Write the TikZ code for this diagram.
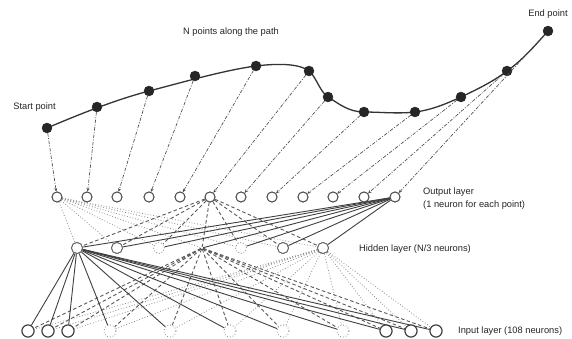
\documentclass[tikz,border=0pt]{standalone}
\usepackage{fontspec}
\setmainfont{Liberation Sans}
\usetikzlibrary{arrows.meta}
\begin{document}
\begin{tikzpicture}[x=1pt,y=-1pt,
  ptdot/.style={circle,fill=black!85,draw=black!85,inner sep=0pt,minimum size=10pt},
  outn/.style={circle,draw=black!70,line width=0.9pt,fill=white,inner sep=0pt,minimum size=10pt},
  hidn/.style={circle,draw=black!60,line width=0.9pt,fill=white,inner sep=0pt,minimum size=11pt},
  hiddot/.style={circle,draw=black!45,dotted,line width=0.8pt,inner sep=0pt,minimum size=11pt},
  hidnone/.style={circle,inner sep=0pt,minimum size=2pt},
  inpn/.style={circle,draw=black!75,line width=1pt,fill=white,inner sep=0pt,minimum size=12pt},
  inpdot/.style={circle,draw=black!45,dotted,line width=0.8pt,inner sep=0pt,minimum size=12pt},
  lbl/.style={font=\fontsize{9.3}{11}\selectfont,text=black!85,inner sep=0pt},
  solidc/.style={draw=black!75,line width=0.9pt},
  dashc/.style={draw=black!65,line width=0.9pt,dash pattern=on 3.5pt off 2.5pt},
  dotc/.style={draw=black!45,line width=0.8pt,dotted},
  pathc/.style={draw=black!70,line width=0.65pt,dash pattern=on 3.5pt off 1.5pt on 1pt off 1.5pt,-{Stealth[length=3.5pt,width=3pt]}},
  curvec/.style={draw=black!80,line width=1.3pt}]
\useasboundingbox (0,0) rectangle (572,339);
\fill[white] (0,0) rectangle (572,339);

% path points
\foreach \n/\x/\y in {1/47/128,2/97/107,3/149/91,4/195/76,5/256/66,6/309/71,7/328/97,8/364/112,9/415/112,10/461/97,11/507/71,12/548/31}
  \coordinate (c\n) at (\x,\y);
\draw[curvec] (c1) .. controls (80,114) and (115,100) .. (c3)
  .. controls (180,83) and (225,70) .. (c5)
  .. controls (280,63) and (300,64) .. (c6)
  .. controls (316,76.5) and (320,92) .. (c7)
  .. controls (338,103) and (348,112) .. (c8)
  .. controls (380,112) and (398,114) .. (c9)
  .. controls (432,110) and (448,103) .. (c10)
  .. controls (478,89) and (494,81) .. (c11)
  .. controls (524,59) and (538,42) .. (c12);
\foreach \n in {1,...,12}
  \node[ptdot] (p\n) at (c\n) {};

% output layer
\foreach \n/\x in {1/57,2/87,3/117,4/149,5/180,6/210,7/241,8/272,9/303,10/333,11/364,12/395}
  \node[outn] (o\n) at (\x,197) {};

% hidden layer
\node[hidn] (h1) at (77,248) {};
\node[hidn] (h2) at (117,248) {};
\node[hiddot] (h3) at (159,248) {};
\node[hidnone] (h4) at (202,248) {};
\node[hiddot] (h5) at (241,248) {};
\node[hidn] (h6) at (283,248) {};
\node[hidn] (h7) at (323,248) {};

% input layer
\node[inpn] (i1) at (28,331) {};
\node[inpn] (i2) at (48,331) {};
\node[inpn] (i3) at (68,331) {};
\node[inpdot] (i4) at (110,331) {};
\node[inpdot] (i5) at (170,331) {};
\node[inpdot] (i6) at (230,331) {};
\node[inpdot] (i7) at (283,331) {};
\node[inpdot] (i8) at (343,331) {};
\node[inpn] (i9) at (386,331) {};
\node[inpn] (i10) at (411,331) {};
\node[inpn] (i11) at (436,331) {};

% connections
\foreach \h in {1,...,7} \draw[dotc] (o1) -- (h\h);
\foreach \i in {1,...,11} \draw[dotc] (h7) -- (i\i);
\foreach \h in {1,...,7} \draw[dashc] (o6) -- (h\h);
\foreach \i in {1,...,11} \draw[dashc] (h4) -- (i\i);
\foreach \h in {1,...,7} \draw[solidc] (o12) -- (h\h);
\foreach \i in {1,...,11} \draw[solidc] (h1) -- (i\i);
\foreach \n in {1,...,12} \draw[pathc] (p\n) -- (o\n);

% redraw solid circles on top
\foreach \x in {57,87,117,149,180,210,241,272,303,333,364,395}
  \node[outn] at (\x,197) {};
\foreach \x in {77,117,283,323} \node[hidn] at (\x,248) {};
\foreach \x in {28,48,68,386,411,436} \node[inpn] at (\x,331) {};

% labels
\node[lbl] (tstart) at (34.5,107) {Start point};
\node[lbl] (tn) at (231,32) {N points along the path};
\node[lbl] (tend) at (548,14) {End point};
\node[lbl,anchor=west] (tout1) at (423,192.5) {Output layer};
\node[lbl,anchor=west] (tout2) at (423,205) {(1 neuron for each point)};
\node[lbl,anchor=west] (thid) at (359,249) {Hidden layer (N/3 neurons)};
\node[lbl,anchor=west] (tinp) at (458,331.5) {Input layer (108 neurons)};
\end{tikzpicture}
\end{document}
